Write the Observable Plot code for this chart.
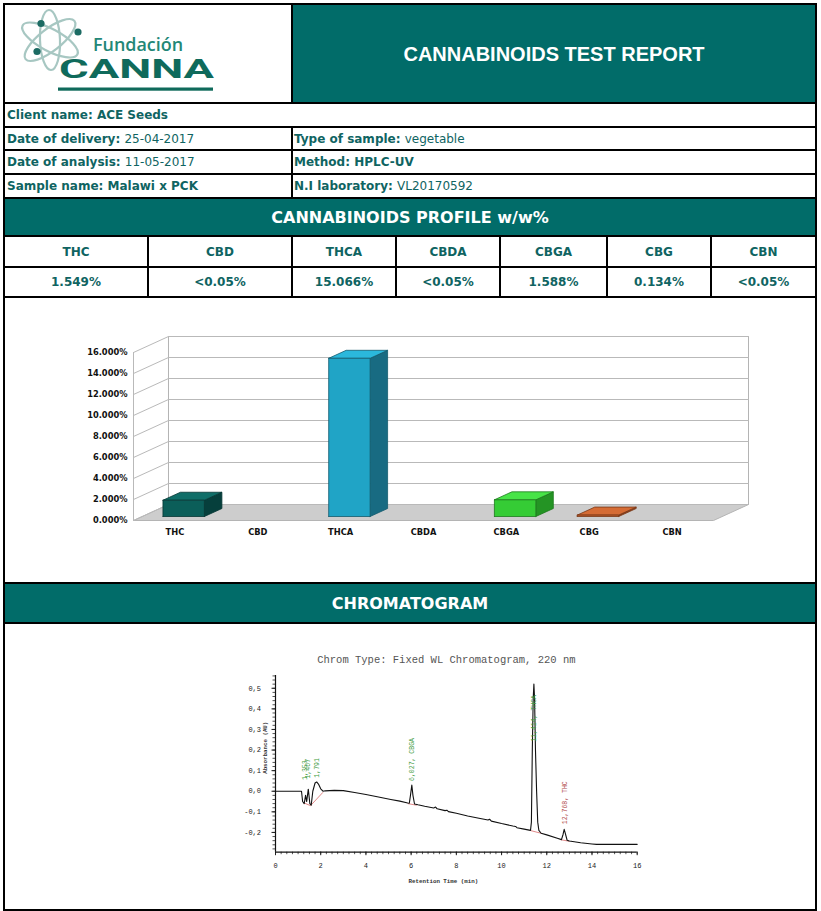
<!DOCTYPE html>
<html><head><meta charset="utf-8">
<script src="https://cdn.jsdelivr.net/npm/d3@7"></script>
<script src="https://cdn.jsdelivr.net/npm/@observablehq/plot@0.6"></script>
<style>
body{margin:0;background:#fff;}
#page{position:relative;width:821px;height:911px;overflow:hidden;background:#fff;font-family:"DejaVu Sans",sans-serif;}
.cell{position:absolute;box-sizing:border-box;}
.black{background:#000;}
.teal{background:#016c69;color:#fff;display:flex;align-items:center;justify-content:center;font-weight:bold;}
.white{background:#fff;}
.info{color:#0f6462;font-size:12px;font-weight:bold;display:flex;align-items:center;padding-left:2px;white-space:pre;}
.info span.v{font-weight:normal;}
.tc{color:#0f6462;font-size:12px;font-weight:bold;display:flex;align-items:center;justify-content:center;}
.abs{position:absolute;}
</style></head>
<body><div id="page"></div>
<script>
// ---------- data ----------
const reportTitle = "CANNABINOIDS TEST REPORT";
const clientLine = ["Client name:", "ACE Seeds"];
const infoLeft = [["Date of delivery:", "25-04-2017", false], ["Date of analysis:", "11-05-2017", false], ["Sample name:", "Malawi x PCK", true]];
const infoRight = [["Type of sample:", "vegetable", false], ["Method:", "HPLC-UV", true], ["N.I laboratory:", "VL20170592", false]];
const profileTitle = "CANNABINOIDS PROFILE w/w%";
const cannabinoids = ["THC", "CBD", "THCA", "CBDA", "CBGA", "CBG", "CBN"];
const percentText = ["1.549%", "<0.05%", "15.066%", "<0.05%", "1.588%", "0.134%", "<0.05%"];
const percentValue = [1.549, 0, 15.066, 0, 1.588, 0.134, 0];
const yTicks = [0, 2, 4, 6, 8, 10, 12, 14, 16];
const chromTitle = "CHROMATOGRAM";
const chromPlotTitle = "Chrom Type: Fixed WL Chromatogram, 220 nm";
const chromTime = [0,1.15,1.2,1.27,1.33,1.38,1.45,1.52,1.58,1.65,1.75,1.82,1.9,2.0,2.1,2.2,2.6,3.0,3.5,4.0,4.5,5.1,5.5,5.85,5.92,5.97,6.03,6.08,6.15,6.3,6.6,7.0,7.08,7.15,7.5,7.58,7.65,8.0,8.5,9.0,9.4,9.47,9.55,10.0,10.5,10.62,10.68,11.0,11.28,11.32,11.36,11.4,11.43,11.46,11.5,11.55,11.6,11.65,11.75,12.0,12.5,12.65,12.72,12.77,12.82,12.9,13.0,13.5,14.0,14.2,16.0];
const chromAbs = [0,0,-0.05,-0.06,-0.02,-0.05,0.01,-0.06,-0.068,0.0,0.04,0.045,0.035,0.012,0.0,0.002,0.004,0.003,-0.006,-0.016,-0.027,-0.04,-0.048,-0.057,-0.058,-0.02,0.03,-0.02,-0.062,-0.066,-0.073,-0.081,-0.077,-0.085,-0.094,-0.092,-0.099,-0.107,-0.12,-0.131,-0.14,-0.136,-0.145,-0.157,-0.169,-0.171,-0.177,-0.184,-0.19,-0.15,0.2,0.45,0.52,0.45,0.2,0.0,-0.15,-0.19,-0.204,-0.212,-0.229,-0.235,-0.21,-0.185,-0.205,-0.238,-0.242,-0.25,-0.256,-0.258,-0.258];
const chromXTicks = [0, 2, 4, 6, 8, 10, 12, 14, 16];
const chromYTicks = [-0.2, -0.1, 0, 0.1, 0.2, 0.3, 0.4, 0.5];
const peakLabels = ["1,353", "1,467", "1,791", "6,027, CBGA", "11,414, THCA", "12,768, THC"];
const peakTime = [1.3, 1.44, 1.84, 6.05, 11.43, 12.78];
const peakAbs = [0.055, 0.062, 0.066, 0.05, 0.24, -0.16];
const peakKind = ["ok", "ok", "ok", "ok", "ok", "thc"];
const baseT1 = [1.22, 1.55, 5.85, 11.25, 12.6];
const baseA1 = [-0.055, -0.07, -0.06, -0.19, -0.235];
const baseT2 = [1.55, 2.1, 6.25, 11.78, 13.0];
const baseA2 = [-0.07, -0.005, -0.068, -0.205, -0.243];

// ---------- styles ----------
const barStyle = {
  THC: {front: "#0b5e59", top: "#0f6e68", side: "#063f3c", stroke: "#053634"},
  THCA: {front: "#20a4c6", top: "#2bb8dc", side: "#186b82", stroke: "#135a6d"},
  CBGA: {front: "#35cc35", top: "#47e447", side: "#249424", stroke: "#1d7a1d"},
  CBG: {front: "#c4602c", top: "#d56c35", side: "#8f4420", stroke: "#7a3818"}
};

// ---------- layout ----------
const page = document.getElementById("page");
function box(x0, y0, x1, y1, cls) {
  const d = document.createElement("div");
  d.className = "cell " + cls;
  Object.assign(d.style, {left: x0 + "px", top: y0 + "px", width: (x1 - x0) + "px", height: (y1 - y0) + "px"});
  page.appendChild(d);
  return d;
}
function infoHTML(label, value, boldValue) {
  const s1 = document.createElement("span"); s1.textContent = label + "\u00a0";
  const s2 = document.createElement("span"); s2.textContent = value; if (!boldValue) s2.className = "v";
  return [s1, s2];
}
box(3, 3, 817, 911, "black");
const logo = box(5, 5, 291, 102, "white");
logo.innerHTML = `<svg width="286" height="97" xmlns="http://www.w3.org/2000/svg">
 <g transform="translate(45,35)" fill="none" stroke="#a7c7c2" stroke-width="2.2">
  <ellipse rx="31" ry="11" transform="rotate(28)"/>
  <ellipse rx="31" ry="11" transform="rotate(-38)"/>
  <ellipse rx="30" ry="10" transform="rotate(88)"/>
 </g>
 <g fill="#1c6b63"><circle cx="36" cy="18.5" r="3.6"/><circle cx="73" cy="27" r="3.6"/><circle cx="32" cy="46.5" r="3.6"/></g>
 <text x="88" y="46" font-family="Open Sans" font-weight="600" font-size="18" fill="#238777" textLength="90" lengthAdjust="spacingAndGlyphs">Fundación</text>
 <text x="54" y="73" font-family="Roboto" font-weight="700" font-size="26" fill="#0f6a5b" textLength="155" lengthAdjust="spacingAndGlyphs">CANNA</text>
 <rect x="53" y="82.5" width="155" height="3.2" fill="#0f6a5b"/>
</svg>`;
const t1 = box(293, 5, 815, 102, "teal");
t1.textContent = reportTitle;
Object.assign(t1.style, {fontFamily: "Liberation Sans", fontSize: "20px", paddingTop: "1px"});

const c = box(5, 104, 815, 126, "white info");
c.append(...infoHTML(clientLine[0], clientLine[1], true));
const rowsY = [[128, 149], [151, 173], [175, 197]];
rowsY.forEach(([y0, y1], i) => {
  box(5, y0, 291, y1, "white info").append(...infoHTML(...infoLeft[i]));
  const r = box(293, y0, 815, y1, "white info");
  r.style.paddingLeft = "1px";
  r.append(...infoHTML(...infoRight[i]));
});
const pt = box(5, 199, 815, 235, "teal");
pt.textContent = profileTitle;
Object.assign(pt.style, {fontSize: "16px"});

const colX = [[5, 147], [149, 291], [293, 395], [397, 499], [501, 606], [608, 710], [712, 815]];
colX.forEach(([x0, x1], i) => {
  box(x0, 237, x1, 266, "white tc").textContent = cannabinoids[i];
  box(x0, 268, x1, 296, "white tc").textContent = percentText[i];
});
box(5, 298, 815, 582, "white");
const ct = box(5, 584, 815, 622, "teal");
ct.textContent = chromTitle;
Object.assign(ct.style, {fontSize: "16px"});
box(5, 624, 815, 909, "white");

// ---------- 3D bar chart (Plot) ----------
const depthU = 0.4224, depthV = 1.5238; // oblique projection of the depth axis, in scale units
const P = (u, v, d) => ({x: u + d * depthU, y: v + d * depthV});
const polys = [];
const n = cannabinoids.length, vMax = yTicks[yTicks.length - 1];
polys.push({pts: [P(0, 0, 0), P(n, 0, 0), P(n, 0, 1), P(0, 0, 1)], fill: "#cdcdcd", stroke: "#b4b4b4", sw: 1});
polys.push({pts: [P(0, 0, 1), P(n, 0, 1), P(n, vMax, 1), P(0, vMax, 1)], fill: "#ffffff", stroke: "#b4b4b4", sw: 1});
const lines = [];
yTicks.forEach(v => {
  lines.push([P(0, v, 1), P(n, v, 1)]);
  lines.push([P(0, v, 0), P(0, v, 1)]);
});
lines.push([P(0, 0, 0), P(0, vMax, 0)]);
cannabinoids.forEach((name, i) => {
  const v = percentValue[i];
  if (!(v > 0)) return;
  const s = barStyle[name];
  const u0 = i + 0.25, u1 = i + 0.75, d0 = 0.25, d1 = 0.75;
  polys.push({pts: [P(u1, 0, d0), P(u1, v, d0), P(u1, v, d1), P(u1, 0, d1)], fill: s.side, stroke: s.stroke, sw: 0.8});
  polys.push({pts: [P(u0, v, d0), P(u1, v, d0), P(u1, v, d1), P(u0, v, d1)], fill: s.top, stroke: s.stroke, sw: 0.8});
  polys.push({pts: [P(u0, 0, d0), P(u1, 0, d0), P(u1, v, d0), P(u0, v, d0)], fill: s.front, stroke: s.stroke, sw: 0.8});
});
const bgPolys = polys.slice(0, 2), barPolys = polys.slice(2);
const polyMark = pg => Plot.line([...pg.pts, pg.pts[0]], {x: "x", y: "y", fill: pg.fill, stroke: pg.stroke, strokeWidth: pg.sw});
const barChart = Plot.plot({
  width: 810, height: 283,
  marginLeft: 128, marginRight: 67, marginTop: 37, marginBottom: 62,
  x: {domain: [0, n + depthU], axis: null},
  y: {domain: [0, vMax + depthV], axis: null},
  style: {fontFamily: "DejaVu Sans", background: "white", overflow: "visible"},
  marks: [
    ...bgPolys.map(polyMark),
    ...lines.map(l => Plot.line(l, {x: "x", y: "y", stroke: "#b9b9b9", strokeWidth: 1})),
    ...barPolys.map(polyMark),
    Plot.text(yTicks, {x: () => 0, y: d => d, text: d => d.toFixed(3) + "%", textAnchor: "end", dx: -6, fontWeight: "bold", fontSize: 8.3, fill: "#111"}),
    Plot.text(cannabinoids, {x: (d, i) => i + 0.5, y: () => 0, text: d => d, dy: 12, fontWeight: "bold", fontSize: 8.3, fill: "#111"})
  ]
});
barChart.classList.add("abs");
Object.assign(barChart.style, {left: "5px", top: "299px"});
page.appendChild(barChart);

// ---------- chromatogram (Plot) ----------
const trace = chromTime.map((t, i) => ({t, a: chromAbs[i]}));
const peaks = peakLabels.map((label, i) => ({label, t: peakTime[i], a: peakAbs[i], kind: peakKind[i]}));
const baselines = baseT1.map((t, i) => ({t1: t, a1: baseA1[i], t2: baseT2[i], a2: baseA2[i]}));
const yMin = -0.296, yMax = 0.562;
const minorX = d3.range(0, 16.01, 0.25);
const minorY = d3.range(-0.28, 0.561, 0.02);
const fmtY = d => d.toFixed(1).replace(".", ",");
const chrom = Plot.plot({
  width: 410, height: 255,
  marginLeft: 40, marginRight: 8.3, marginTop: 35, marginBottom: 43.3,
  x: {domain: [0, 16], label: null},
  y: {domain: [yMin, yMax], label: null},
  style: {fontFamily: "Liberation Mono", background: "transparent", color: "#222", overflow: "visible"},
  marks: [
    Plot.axisX(minorX, {tickSize: 2.5, tickFormat: () => "", stroke: "#555", label: null}),
    Plot.axisY(minorY, {tickSize: 2.5, tickFormat: () => "", stroke: "#555", label: null}),
    Plot.axisX(chromXTicks, {tickSize: 3.5, tickPadding: 7, tickFormat: d => String(d), fontSize: 7, label: null}),
    Plot.axisY(chromYTicks, {tickSize: 3.5, tickPadding: 11, tickFormat: fmtY, fontSize: 7, label: null}),
    Plot.ruleX([0], {stroke: "#111", strokeWidth: 1.2}),
    Plot.ruleY([yMin], {stroke: "#111", strokeWidth: 1.2}),
    Plot.link(baselines, {x1: "t1", y1: "a1", x2: "t2", y2: "a2", stroke: "#dd7b7b", strokeWidth: 0.9}),
    Plot.line(trace, {x: "t", y: "a", stroke: "#111", strokeWidth: 1.1}),
    Plot.text(peaks, {x: "t", y: "a", text: "label", rotate: -90, textAnchor: "start", fontSize: 6.5, fill: d => d.kind === "thc" ? "#b04848" : "#3f9c3f"}),
    Plot.text([chromPlotTitle], {text: d => d, frameAnchor: "top", dy: -20, dx: -10, fontSize: 10.5, fill: "#555"}),
    Plot.text(["Retention Time (min)"], {text: d => d, frameAnchor: "bottom", dy: 31, dx: -13, fontSize: 5.8, fontWeight: "bold", fill: "#333"}),
    Plot.text(["Absorbance (AU)"], {text: d => d, frameAnchor: "left", dx: -10, dy: 10, rotate: -90, fontSize: 5.8, fontWeight: "bold", fill: "#333"})
  ]
});
chrom.classList.add("abs");
Object.assign(chrom.style, {left: "235px", top: "640px"});
page.appendChild(chrom);
</script>
</body></html>
